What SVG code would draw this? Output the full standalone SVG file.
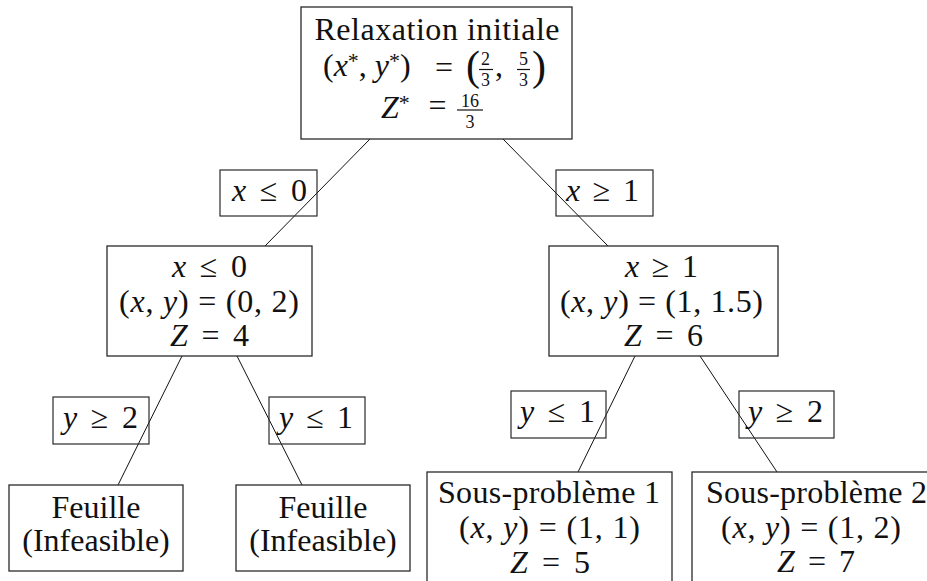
<svg xmlns="http://www.w3.org/2000/svg" width="927" height="581" viewBox="0 0 927 581" font-family="'Liberation Serif', 'Times New Roman', serif">
<style>
  .box { fill: none; stroke: #2a2a2a; stroke-width: 1.3; }
  .lbl { fill: none; stroke: #2a2a2a; stroke-width: 1.2; }
  .edge { stroke: #111; stroke-width: 1; fill: none; }
  text { font-family: 'Liberation Serif', 'Times New Roman', serif; font-size: 32px; fill: #111; }
  .m { text-anchor: middle; }
  .i { font-style: italic; }
  .sm { font-size: 18px; }
  .st { font-size: 22px; }
  .big { font-size: 42px; }
  .bar { stroke: #111; stroke-width: 1.2; }
</style>
<rect width="927" height="581" fill="#fff"/>

<g id="connectors">
  <line class="edge" x1="370" y1="139" x2="265" y2="246"/>
  <line class="edge" x1="503" y1="139" x2="608" y2="246"/>
  <line class="edge" x1="182" y1="356" x2="118" y2="485"/>
  <line class="edge" x1="237" y1="356" x2="302" y2="485"/>
  <line class="edge" x1="635" y1="356" x2="578" y2="472"/>
  <line class="edge" x1="700" y1="356" x2="777" y2="472"/>
</g>

<g id="root">
  <rect class="box" x="301" y="7" width="271" height="132"/>
  <text class="m" x="437" y="40" textLength="245" lengthAdjust="spacing">Relaxation initiale</text>
  <text y="76"><tspan x="323">(</tspan><tspan class="i">x</tspan><tspan class="st" dy="-8">*</tspan><tspan dy="8">, </tspan><tspan class="i">y</tspan><tspan class="st" dy="-8">*</tspan><tspan dy="8">)</tspan><tspan x="435" y="78">=</tspan><tspan class="big" x="466" y="80">(</tspan><tspan class="sm" x="481" y="65">2</tspan><tspan class="sm" x="481" y="85.5">3</tspan><tspan x="495" y="76">,</tspan><tspan class="sm" x="519" y="65">5</tspan><tspan class="sm" x="519" y="85.5">3</tspan><tspan class="big" x="532" y="80">)</tspan></text>
  <line class="bar" x1="479" y1="69.5" x2="493" y2="69.5"/>
  <line class="bar" x1="517" y1="69.5" x2="530" y2="69.5"/>
  <text y="118"><tspan class="i" x="381">Z</tspan><tspan class="st" dy="-8">*</tspan><tspan x="428.5" y="116">=</tspan><tspan class="sm" x="461" y="106.5">16</tspan><tspan class="sm" x="465.5" y="127.5">3</tspan></text>
  <line class="bar" x1="457" y1="110" x2="483" y2="110"/>
</g>

<g id="label-x-le-0">
  <rect class="lbl" x="220" y="170" width="97" height="46"/>
  <text class="m" x="269.5" y="201" textLength="75" lengthAdjust="spacing"><tspan class="i">x</tspan> ≤ 0</text>
</g>
<g id="label-x-ge-1">
  <rect class="lbl" x="556" y="170" width="97" height="46"/>
  <text class="m" x="602.5" y="201" textLength="73" lengthAdjust="spacing"><tspan class="i">x</tspan> ≥ 1</text>
</g>

<g id="node-left">
  <rect class="box" x="107" y="246" width="205" height="110"/>
  <text class="m" x="209.5" y="277" textLength="75" lengthAdjust="spacing"><tspan class="i">x</tspan> ≤ 0</text>
  <text class="m" x="209" y="312" textLength="180" lengthAdjust="spacing">(<tspan class="i">x</tspan>, <tspan class="i">y</tspan>) = (0, 2)</text>
  <text class="m" x="209.5" y="346" textLength="79" lengthAdjust="spacing"><tspan class="i">Z</tspan> = 4</text>
</g>

<g id="node-right">
  <rect class="box" x="549" y="246" width="229" height="110"/>
  <text class="m" x="661.5" y="277" textLength="73" lengthAdjust="spacing"><tspan class="i">x</tspan> ≥ 1</text>
  <text class="m" x="661.5" y="312" textLength="203" lengthAdjust="spacing">(<tspan class="i">x</tspan>, <tspan class="i">y</tspan>) = (1, 1.5)</text>
  <text class="m" x="663.5" y="346" textLength="79" lengthAdjust="spacing"><tspan class="i">Z</tspan> = 6</text>
</g>

<g id="label-y-ge-2-left">
  <rect class="lbl" x="53" y="397" width="96" height="47"/>
  <text class="m" x="100.5" y="428" textLength="75" lengthAdjust="spacing"><tspan class="i">y</tspan> ≥ 2</text>
</g>
<g id="label-y-le-1-left">
  <rect class="lbl" x="269" y="397" width="96" height="47"/>
  <text class="m" x="316" y="428" textLength="74" lengthAdjust="spacing"><tspan class="i">y</tspan> ≤ 1</text>
</g>
<g id="label-y-le-1-right">
  <rect class="lbl" x="511" y="391" width="95" height="47"/>
  <text class="m" x="557.5" y="422" textLength="75" lengthAdjust="spacing"><tspan class="i">y</tspan> ≤ 1</text>
</g>
<g id="label-y-ge-2-right">
  <rect class="lbl" x="739" y="391" width="95" height="47"/>
  <text class="m" x="785.5" y="422" textLength="75" lengthAdjust="spacing"><tspan class="i">y</tspan> ≥ 2</text>
</g>

<g id="leaf-left">
  <rect class="box" x="9" y="485" width="174" height="86"/>
  <text class="m" x="96" y="518">Feuille</text>
  <text class="m" x="96" y="551">(Infeasible)</text>
</g>
<g id="leaf-right">
  <rect class="box" x="236" y="485" width="174" height="86"/>
  <text class="m" x="323" y="518">Feuille</text>
  <text class="m" x="323" y="551">(Infeasible)</text>
</g>

<g id="sub-1">
  <rect class="box" x="427" y="472" width="245" height="140"/>
  <text class="m" x="549" y="503" textLength="222" lengthAdjust="spacing">Sous-problème 1</text>
  <text class="m" x="549.5" y="538" textLength="181" lengthAdjust="spacing">(<tspan class="i">x</tspan>, <tspan class="i">y</tspan>) = (1, 1)</text>
  <text class="m" x="550" y="573" textLength="80" lengthAdjust="spacing"><tspan class="i">Z</tspan> = 5</text>
</g>
<g id="sub-2">
  <rect class="box" x="692" y="472" width="245" height="140"/>
  <text class="m" x="816.5" y="503" textLength="221" lengthAdjust="spacing">Sous-problème 2</text>
  <text class="m" x="811" y="538" textLength="180" lengthAdjust="spacing">(<tspan class="i">x</tspan>, <tspan class="i">y</tspan>) = (1, 2)</text>
  <text class="m" x="816" y="572" textLength="78" lengthAdjust="spacing"><tspan class="i">Z</tspan> = 7</text>
</g>
</svg>
